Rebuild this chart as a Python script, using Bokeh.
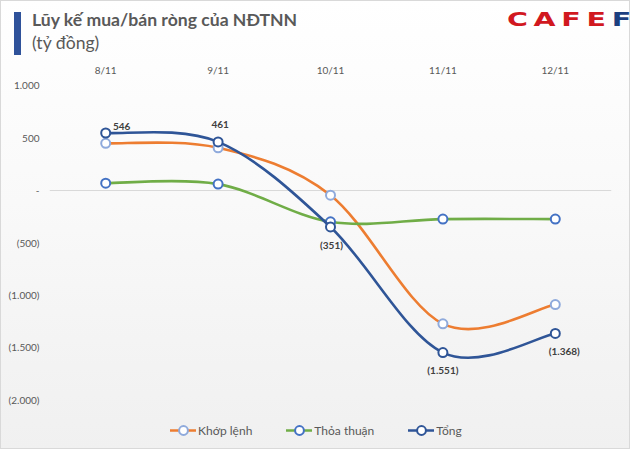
import numpy as np
from bokeh.plotting import figure
from bokeh.layouts import column
from bokeh.models import (ColumnDataSource, FixedTicker, Range1d, Div,
                          Legend, LegendItem)
from bokeh.core.properties import value
from bokeh.embed import file_html
from bokeh.resources import INLINE

# ---------------- data ----------------
DATES = ["8/11", "9/11", "10/11", "11/11", "12/11"]
KHOP_LENH = [448, 405, -48, -1276, -1092]
THOA_THUAN = [67, 58, -302, -276, -276]
TONG = [546, 461, -351, -1551, -1368]
TONG_LABELS = ["546", "461", "(351)", "(1.551)", "(1.368)"]
SERIES_NAMES = ["Khớp lệnh", "Thỏa thuận", "Tổng"]
Y_TICKS = [1000, 500, 0, -500, -1000, -1500, -2000]
Y_TICK_LABELS = ["1.000", "500", "-", "(500)", "(1.000)", "(1.500)", "(2.000)"]
TITLE = "Lũy kế mua/bán ròng của NĐTNN"
SUBTITLE = "(tỷ đồng)"
LOGO_MAIN, LOGO_TAIL = "CAFE", "F"

# ---------------- styles ----------------
LINE_COLORS = ["#ED7D31", "#70AD47", "#2F5597"]
MARKER_EDGES = ["#8FAADC", "#4472C4", "#2F5597"]
LABEL_DX = [16, 2, 1, 0, 9]
LABEL_DY = [-7, -17, 18, 17, 18]
TEXT_GRAY = "#595959"
FONT = "Lato"
HEADER_H = 60
W, H = 630, 449
FRAME_L, FRAME_R = 49, 611


def bezier_data(vals):
    v = np.asarray(vals, dtype=float)
    x = np.arange(len(v), dtype=float)
    vp = np.r_[v[0], v[:-1]]
    vn = np.r_[v[1:], v[-1]]
    xp = np.r_[x[0], x[:-1]]
    xn = np.r_[x[1:], x[-1]]
    tx = (xn - xp) / 6.0
    ty = (vn - vp) / 6.0
    return dict(x0=x[:-1], y0=v[:-1], x1=x[1:], y1=v[1:],
                cx0=x[:-1] + tx[:-1], cy0=v[:-1] + ty[:-1],
                cx1=x[1:] - tx[1:], cy1=v[1:] - ty[1:])


# ---------------- header (title + logo) ----------------
header_html = f"""
<div style="position:relative;width:{W}px;height:{HEADER_H}px;margin:0;padding:0;">
  <div style="position:absolute;left:14px;top:12px;width:7px;height:43px;background:#2F529A;"></div>
  <div style="position:absolute;left:32px;top:9px;font-family:'{FONT}';font-weight:bold;
       font-size:17.6px;line-height:21px;color:{TEXT_GRAY};white-space:nowrap;">{TITLE}</div>
  <div style="position:absolute;left:32px;top:32px;font-family:'{FONT}';font-weight:normal;
       font-size:17.6px;line-height:21px;color:{TEXT_GRAY};white-space:nowrap;">{SUBTITLE}</div>
  <div style="position:absolute;left:507px;top:8px;font-family:'DejaVu Sans';font-weight:bold;
       font-size:19px;line-height:22px;white-space:nowrap;
       transform:scaleX(1.5);transform-origin:0 0;"><span style="color:#D1181F;letter-spacing:3.8px;">{LOGO_MAIN}</span><span style="color:#1C3F80;letter-spacing:0;">{LOGO_TAIL}</span></div>
</div>
"""
hd = Div(text=header_html, width=W, height=HEADER_H,
         styles={"margin": "0", "padding": "0", "overflow": "visible"})

# ---------------- main chart ----------------
FRAME_TOP = 78 - HEADER_H
FRAME_BOTTOM = 447 - HEADER_H
MH = H - HEADER_H
p = figure(width=W, height=MH, output_backend="svg", toolbar_location=None,
           x_range=Range1d(-0.5, 4.5), y_range=Range1d(-2457, 1057),
           x_axis_location="above",
           min_border_left=FRAME_L, min_border_right=W - FRAME_R,
           min_border_top=FRAME_TOP, min_border_bottom=MH - FRAME_BOTTOM)
p.background_fill_alpha = 0
p.border_fill_alpha = 0
p.outline_line_color = None

xa = p.xaxis[0]
xa.ticker = FixedTicker(ticks=list(range(len(DATES))))
xa.major_label_overrides = {i: d for i, d in enumerate(DATES)}
ya = p.yaxis[0]
ya.ticker = FixedTicker(ticks=Y_TICKS)
ya.major_label_overrides = {t: l for t, l in zip(Y_TICKS, Y_TICK_LABELS)}
for ax in (xa, ya):
    ax.axis_line_color = None
    ax.major_tick_line_color = None
    ax.minor_tick_line_color = None
    ax.major_tick_out = 0
    ax.major_tick_in = 0
    ax.major_label_text_font = FONT
    ax.major_label_text_font_size = "10px"
    ax.major_label_text_color = TEXT_GRAY
xa.major_label_standoff = 4
ya.major_label_standoff = 10

p.xgrid.visible = False
p.ygrid.ticker = FixedTicker(ticks=[0])
p.ygrid.grid_line_color = "#d9d9d9"
p.ygrid.grid_line_width = 1

legend_items = []
for name, vals, lc, mc in zip(SERIES_NAMES, [KHOP_LENH, THOA_THUAN, TONG],
                              LINE_COLORS, MARKER_EDGES):
    bsrc = ColumnDataSource(bezier_data(vals))
    br = p.bezier(x0="x0", y0="y0", x1="x1", y1="y1", cx0="cx0", cy0="cy0",
                  cx1="cx1", cy1="cy1", source=bsrc, line_color=lc,
                  line_width=2.6, line_cap="round")
    sr = p.scatter(x=list(range(len(vals))), y=vals, marker="circle", size=9,
                   fill_color="white", line_color=mc, line_width=2)
    legend_items.append(LegendItem(label=name, renderers=[br, sr]))

lsrc = ColumnDataSource(dict(x=list(range(len(TONG))), y=TONG, t=TONG_LABELS,
                             dx=LABEL_DX, dy=LABEL_DY))
p.text(x="x", y="y", text="t", x_offset="dx", y_offset="dy", source=lsrc,
       text_font=value(FONT), text_font_style="bold", text_font_size="10px",
       text_color="#404040", text_align="center", text_baseline="middle")

legend = Legend(items=legend_items, orientation="horizontal",
                location=(170 - FRAME_L, 447 - 441), margin=0, padding=0,
                glyph_width=26, glyph_height=22, label_standoff=2, spacing=34,
                border_line_color=None, background_fill_alpha=0,
                label_text_font=FONT, label_text_font_size="12px",
                label_text_color=TEXT_GRAY)
p.add_layout(legend)

layout = column(hd, p, spacing=0)
layout.styles = {
    "background": "linear-gradient(to bottom, #ffffff 0%, #f9f9f9 45%, #f0f0f0 100%)",
    "box-shadow": "inset 0 0 0 1px #d9d9d9",
}

open("out.html", "w").write(file_html(layout, INLINE))
